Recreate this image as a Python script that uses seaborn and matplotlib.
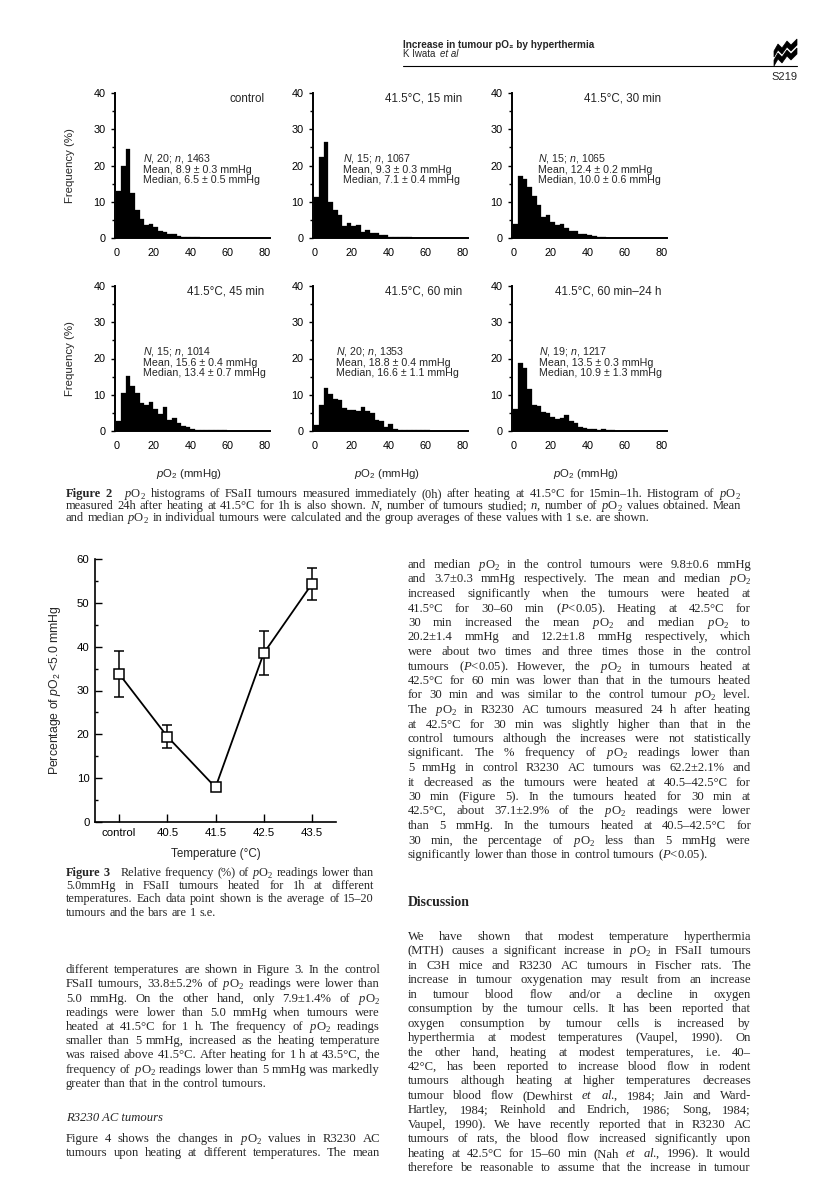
import numpy as np
import pandas as pd
import matplotlib
matplotlib.use('Agg')
import matplotlib.pyplot as plt
import seaborn as sns
from matplotlib.patches import Polygon
from matplotlib.lines import Line2D

# page size in pixels
W, H, DPI = 816, 1202, 100

# Figure 2: % frequency of pO2 readings in 2.5 mmHg bins (0-80 mmHg)
bin_width = 2.5
freq_control = [13.1, 19.9, 24.5, 12.4, 7.6, 5.2, 3.5, 3.9, 3.0, 1.8, 1.6, 1.1, 1.1, 0.6, 0.4, 0.3,
                0.2, 0.2, 0.1, 0.1, 0.1, 0.1, 0.05, 0.05, 0.05, 0, 0, 0, 0, 0, 0, 0]
freq_15min = [11.3, 22.4, 26.5, 9.8, 7.7, 6.3, 3.4, 4.1, 3.3, 3.5, 1.7, 2.1, 1.5, 1.3, 0.9, 0.7,
              0.3, 0.3, 0.2, 0.2, 0.2, 0.1, 0.1, 0.1, 0.1, 0.1, 0.1, 0.1, 0.1, 0.1, 0.1, 0.1]
freq_30min = [4.0, 17.2, 16.3, 14.0, 11.7, 9.2, 5.8, 6.4, 4.4, 3.7, 4.0, 2.8, 2.0, 2.0, 1.1, 1.1,
              0.7, 0.5, 0.3, 0.2, 0.1, 0.1, 0.05, 0.05, 0, 0, 0, 0, 0, 0, 0, 0]
freq_45min = [2.8, 10.6, 15.1, 12.5, 10.6, 7.7, 7.1, 8.1, 6.0, 4.8, 6.5, 3.0, 3.7, 2.3, 1.4, 1.2,
              0.5, 0.4, 0.3, 0.2, 0.2, 0.2, 0.2, 0.2, 0.1, 0.1, 0.05, 0.05, 0, 0, 0, 0]
freq_60min = [1.7, 7.1, 11.8, 10.3, 8.7, 8.5, 6.3, 5.9, 5.7, 5.5, 6.5, 5.4, 5.0, 3.1, 2.8, 1.1,
              2.0, 0.5, 0.4, 0.4, 0.3, 0.3, 0.3, 0.2, 0.2, 0.1, 0.05, 0.05, 0, 0, 0, 0]
freq_24h = [6.0, 18.8, 17.4, 11.5, 7.3, 6.9, 5.2, 5.0, 3.9, 3.4, 3.6, 4.3, 2.7, 2.3, 1.1, 0.8,
            0.5, 0.6, 0.4, 0.5, 0.3, 0.2, 0.1, 0.05, 0.05, 0, 0, 0, 0, 0, 0, 0]

panel_titles = ['control', '41.5°C, 15 min', '41.5°C, 30 min',
                '41.5°C, 45 min', '41.5°C, 60 min', '41.5°C, 60 min–24 h']
panel_N = [20, 15, 15, 15, 20, 19]
panel_n = [1463, 1067, 1065, 1014, 1353, 1217]
panel_mean = ['8.9 ± 0.3', '9.3 ± 0.3', '12.4 ± 0.2', '15.6 ± 0.4', '18.8 ± 0.4', '13.5 ± 0.3']
panel_median = ['6.5 ± 0.5', '7.1 ± 0.4', '10.0 ± 0.6', '13.4 ± 0.7', '16.6 ± 1.1', '10.9 ± 1.3']

# Figure 3: % of pO2 readings < 5.0 mmHg, mean and 1 s.e. (as drawn)
temps = ['control', '40.5', '41.5', '42.5', '43.5']
pct_low = [33.8, 19.5, 7.9, 38.5, 54.3]
pct_se = [5.2, 2.7, 0.8, 5.0, 3.6]

sns.set_style('ticks')
SANS = ['Liberation Sans', 'DejaVu Sans']
SERIF = ['Liberation Serif', 'DejaVu Serif']
NARROW = ['Liberation Sans Narrow', 'Liberation Sans', 'DejaVu Sans']
plt.rcParams['font.family'] = SANS
plt.rcParams['mathtext.fontset'] = 'custom'
plt.rcParams['mathtext.rm'] = 'Liberation Sans'
plt.rcParams['mathtext.it'] = 'Liberation Sans:italic'
plt.rcParams['mathtext.sf'] = 'Liberation Serif:italic'
plt.rcParams['mathtext.bf'] = 'Liberation Serif'
plt.rcParams['axes.edgecolor'] = 'black'
plt.rcParams['xtick.color'] = 'black'
plt.rcParams['ytick.color'] = 'black'

PO2_SANS = r'$\mathit{p}$O$_{\mathrm{2}}$'
PO2_SERIF = r'$\mathsf{p}$O$_{\mathbf{2}}$'

fig = plt.figure(figsize=(W / DPI, H / DPI), dpi=DPI)
renderer = fig.canvas.get_renderer()


def px_axes(left, top, right, bottom):
    return fig.add_axes([left / W, 1 - bottom / H, (right - left) / W, (bottom - top) / H])


def make_words(line, size, y, style='normal'):
    # '*' marks a bold word, a double space gives a fixed wider gap
    arts, extra, pending = [], [], 0.0
    for tk in line.replace('pO2', PO2_SERIF).split(' '):
        if tk == '':
            pending += size * 0.6 * DPI / 72
            continue
        weight = 'normal'
        if tk.startswith('*'):
            tk, weight = tk[1:], 'bold'
        arts.append(fig.text(0, 1 - y / H, tk, fontsize=size, family=SERIF, style=style,
                             weight=weight, ha='left', va='baseline'))
        extra.append(pending)
        pending = 0.0
    widths = [t.get_window_extent(renderer).width for t in arts]
    return arts, widths, extra


def fit_size(blocks, base=10.0):
    # largest size at which every justified line fits with normal word spaces
    ratios = []
    for x0, x1, lines in blocks:
        for line in lines:
            arts, widths, extra = make_words(line, base, 0)
            natural = sum(widths) + sum(extra) + base * 0.25 * DPI / 72 * (len(arts) - 1)
            ratios.append((x1 - x0) / natural)
            for t in arts:
                t.remove()
    return base * min(ratios) * 0.995


def text_line(x0, x1, y, line, size, justify=True):
    arts, widths, extra = make_words(line, size, y)
    gap = size * 0.25 * DPI / 72
    if justify and len(arts) > 1:
        gap = (x1 - x0 - sum(widths) - sum(extra)) / (len(arts) - 1)
    x = x0
    for t, w, e in zip(arts, widths, extra):
        x += e
        t.set_x(x / W)
        x += w + gap


def paragraph(x0, x1, y0, step, lines, size, last_ragged=True):
    for i, line in enumerate(lines):
        ragged = last_ragged and i == len(lines) - 1
        text_line(x0, x1, round(y0 + i * step), line, size, justify=not ragged)


# ---- running head ----
fig.text(403 / W, 1 - 45 / H, 'Increase in tumour pO₂ by hyperthermia', family=NARROW,
         weight='bold', fontsize=7.2, ha='left', va='center')
t_k = fig.text(403 / W, 1 - 54 / H, 'K Iwata ', family=NARROW, fontsize=7, ha='left', va='center')
k_w = t_k.get_window_extent(renderer).width
fig.text((403 + k_w + 2) / W, 1 - 54 / H, 'et al', family=NARROW, fontsize=7, style='italic',
         ha='left', va='center')
fig.add_artist(Line2D([403 / W, 797 / W], [1 - 66 / H, 1 - 66 / H], color='black', lw=0.8))
fig.text(797 / W, 1 - 77 / H, 'S219', family=NARROW, fontsize=8, ha='right', va='center')
for dy in (0, 9):
    band = [(774, 51), (778, 44), (782, 48), (787, 41), (791, 45), (797, 39),
            (797, 45), (791, 51), (787, 47), (782, 54), (778, 50), (774, 57)]
    fig.add_artist(Polygon([(x / W, 1 - (y + dy) / H) for x, y in band], closed=True,
                           facecolor='black', edgecolor='black', lw=0.5))

# ---- Figure 2: histograms ----
hist_series = [freq_control, freq_15min, freq_30min, freq_45min, freq_60min, freq_24h]
col_left = [115, 313, 512]
row_top = [93, 286]
stat_x = [14.4, 15.5, 13.4, 14.4, 11.8, 13.9]
for i, freqs in enumerate(hist_series):
    r, c = divmod(i, 3)
    ax = px_axes(col_left[c], row_top[r], col_left[c] + 155, row_top[r] + 145)
    df = pd.DataFrame({'pO2': [bin_width * (k + 0.5) for k in range(len(freqs))], 'freq': freqs})
    sns.histplot(data=df, x='pO2', weights='freq', binwidth=bin_width,
                 binrange=(0, bin_width * len(freqs)), color='black', alpha=1,
                 edgecolor='black', linewidth=0.2, ax=ax)
    ax.set_xlim(-0.8, 83)
    ax.set_ylim(0, 40)
    ax.set_xticks(range(0, 81, 20))
    ax.set_yticks(range(0, 41, 10))
    ax.set_yticks(range(5, 40, 10), minor=True)
    ax.tick_params(axis='x', length=0, pad=7.5, labelsize=7.8)
    ax.tick_params(axis='y', which='major', direction='out', length=3, width=1, pad=4, labelsize=7.8)
    ax.tick_params(axis='y', which='minor', direction='out', length=2, width=1)
    sns.despine(ax=ax)
    for s in ('left', 'bottom'):
        ax.spines[s].set_linewidth(1.4)
    ax.set_facecolor('none')
    ax.set_ylabel('Frequency (%)' if c == 0 else '', fontsize=8.2)
    ax.yaxis.set_label_coords(-0.258, 0.5)
    ax.set_xlabel(PO2_SANS + ' (mmHg)' if r == 1 else '', fontsize=8.2)
    ax.xaxis.set_label_coords(0.48, -0.25)
    ax.text(80, 38.4, panel_titles[i], ha='right', va='center', fontsize=8.4)
    stats = '\n'.join([rf'$\mathit{{N}}$, {panel_N[i]}; $\mathit{{n}}$, {panel_n[i]}',
                       f'Mean, {panel_mean[i]} mmHg',
                       f'Median, {panel_median[i]} mmHg'])
    ax.text(stat_x[i], 23.6, stats, ha='left', va='top', fontsize=7.7, linespacing=0.97)

cap2 = ['*Figure *2  pO2 histograms of FSaII tumours measured immediately (0h) after heating at 41.5°C for 15min–1h. Histogram of pO2',
        'measured 24h after heating at 41.5°C for 1h is also shown. $\\mathsf{N}$, number of tumours studied; $\\mathsf{n}$, number of pO2 values obtained. Mean',
        'and median pO2 in individual tumours were calculated and the group averages of these values with 1 s.e. are shown.']
size_cap2 = min(fit_size([(66, 741, cap2[:2])]), 9.0)
paragraph(66, 741, 497, 12, cap2, size_cap2)

# ---- Figure 3: line plot with error bars ----
ax3 = px_axes(95, 559, 336, 822)
xpos = list(range(len(temps)))
ax3.errorbar(xpos, pct_low, yerr=pct_se, fmt='none', ecolor='black', elinewidth=1.1,
             capsize=3.5, capthick=1.1, zorder=2)
sns.lineplot(x=xpos, y=pct_low, color='black', lw=1.3, marker='s', markersize=6.5,
             markerfacecolor='white', markeredgecolor='black', markeredgewidth=1.1, ax=ax3, zorder=3)
ax3.set_xlim(-0.5, 4.5)
ax3.set_ylim(0, 60)
ax3.set_xticks(xpos)
ax3.set_xticklabels(temps)
ax3.set_yticks(range(0, 61, 10))
ax3.set_yticks(range(5, 60, 10), minor=True)
ax3.tick_params(axis='x', direction='in', length=6, width=1, pad=4.5, labelsize=8.2)
ax3.tick_params(axis='y', which='major', direction='in', length=5, width=1, pad=4, labelsize=8.2)
ax3.tick_params(axis='y', which='minor', direction='in', length=2.5, width=1)
sns.despine(ax=ax3)
for s in ('left', 'bottom'):
    ax3.spines[s].set_linewidth(1.2)
ax3.set_facecolor('none')
ax3.set_xlabel('Temperature (°C)', fontsize=8.4)
ax3.xaxis.set_label_coords(0.5, -0.099)
ax3.set_ylabel('Percentage of ' + PO2_SANS + ' <5.0 mmHg', fontsize=8.8)
ax3.yaxis.set_label_coords(-0.133, 0.5)

cap3 = ['*Figure *3  Relative frequency (%) of pO2 readings lower than',
        '5.0mmHg in FSaII tumours heated for 1h at different',
        'temperatures. Each data point shown is the average of 15–20',
        'tumours and the bars are 1 s.e.']
size_cap3 = min(fit_size([(66, 374, cap3[:3])]), 9.4)
paragraph(66, 374, 876, 13.2, cap3, size_cap3)

# ---- body text ----
left1 = ['different temperatures are shown in Figure 3. In the control',
         'FSaII tumours, 33.8±5.2% of pO2 readings were lower than',
         '5.0 mmHg. On the other hand, only 7.9±1.4% of pO2',
         'readings were lower than 5.0 mmHg when tumours were',
         'heated at 41.5°C for 1 h. The frequency of pO2 readings',
         'smaller than 5 mmHg, increased as the heating temperature',
         'was raised above 41.5°C. After heating for 1 h at 43.5°C, the',
         'frequency of pO2 readings lower than 5 mmHg was markedly',
         'greater than that in the control tumours.']
left2 = ['Figure 4 shows the changes in pO2 values in R3230 AC',
         'tumours upon heating at different temperatures. The mean']
right1 = ['and median pO2 in the control tumours were 9.8±0.6 mmHg',
          'and 3.7±0.3 mmHg respectively. The mean and median pO2',
          'increased significantly when the tumours were heated at',
          '41.5°C for 30–60 min ($\\mathsf{P}$<0.05). Heating at 42.5°C for',
          '30 min increased the mean pO2 and median pO2 to',
          '20.2±1.4 mmHg and 12.2±1.8 mmHg respectively, which',
          'were about two times and three times those in the control',
          'tumours ($\\mathsf{P}$<0.05). However, the pO2 in tumours heated at',
          '42.5°C for 60 min was lower than that in the tumours heated',
          'for 30 min and was similar to the control tumour pO2 level.',
          'The pO2 in R3230 AC tumours measured 24 h after heating',
          'at 42.5°C for 30 min was slightly higher than that in the',
          'control tumours although the increases were not statistically',
          'significant. The % frequency of pO2 readings lower than',
          '5 mmHg in control R3230 AC tumours was 62.2±2.1% and',
          'it decreased as the tumours were heated at 40.5–42.5°C for',
          '30 min (Figure 5). In the tumours heated for 30 min at',
          '42.5°C, about 37.1±2.9% of the pO2 readings were lower',
          'than 5 mmHg. In the tumours heated at 40.5–42.5°C for',
          '30 min, the percentage of pO2 less than 5 mmHg were',
          'significantly lower than those in control tumours ($\\mathsf{P}$<0.05).']
right2 = ['We have shown that modest temperature hyperthermia',
          '(MTH) causes a significant increase in pO2 in FSaII tumours',
          'in C3H mice and R3230 AC tumours in Fischer rats. The',
          'increase in tumour oxygenation may result from an increase',
          'in tumour blood flow and/or a decline in oxygen',
          'consumption by the tumour cells. It has been reported that',
          'oxygen consumption by tumour cells is increased by',
          'hyperthermia at modest temperatures (Vaupel, 1990). On',
          'the other hand, heating at modest temperatures, i.e. 40–',
          '42°C, has been reported to increase blood flow in rodent',
          'tumours although heating at higher temperatures decreases',
          'tumour blood flow (Dewhirst $\\mathsf{et}$ $\\mathsf{al}$., 1984; Jain and Ward-',
          'Hartley, 1984; Reinhold and Endrich, 1986; Song, 1984;',
          'Vaupel, 1990). We have recently reported that in R3230 AC',
          'tumours of rats, the blood flow increased significantly upon',
          'heating at 42.5°C for 15–60 min (Nah $\\mathsf{et}$ $\\mathsf{al}$., 1996). It would',
          'therefore be reasonable to assume that the increase in tumour']

size_body = min(fit_size([(66, 380, left1[:-1] + left2),
                          (408, 751, right1[:-1] + right2)]), 9.8)
paragraph(66, 380, 973, 14.25, left1, size_body)
fig.text(66 / W, 1 - 1121 / H, 'R3230 AC tumours', family=SERIF, style='italic', fontsize=size_body,
         ha='left', va='baseline')
paragraph(66, 380, 1142, 14.25, left2, size_body, last_ragged=False)
paragraph(408, 751, 568, 14.5, right1, size_body)
fig.text(408 / W, 1 - 906 / H, 'Discussion', family=SERIF, weight='bold', fontsize=size_body + 0.8,
         ha='left', va='baseline')
paragraph(408, 751, 940, 14.44, right2, size_body, last_ragged=False)

fig.savefig('out.png', dpi=DPI, facecolor='white')
